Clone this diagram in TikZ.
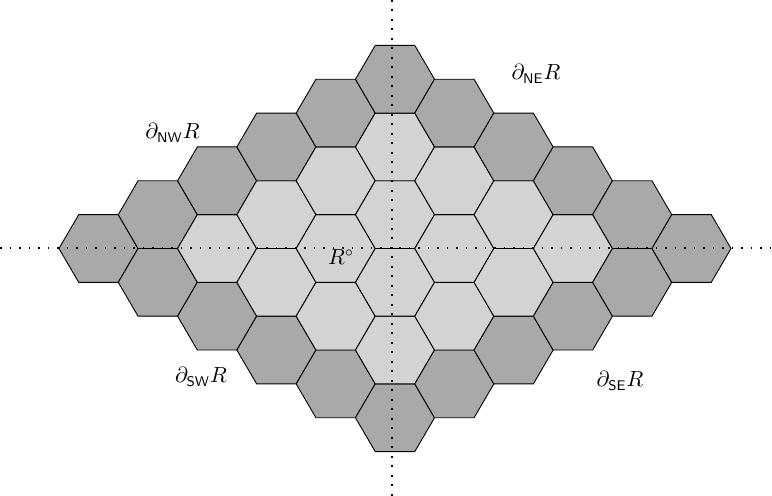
\documentclass[tikz,border=0pt]{standalone}
\usepackage{amsmath}
\definecolor{hexdark}{RGB}{169,169,169}
\definecolor{hexlight}{RGB}{211,211,211}
\tikzset{
  hexcell/.style={draw=black, line width=0.45pt, line join=miter},
  axisline/.style={black, line width=0.6pt, dash pattern=on 0.9pt off 3.85pt},
  lbl/.style={inner sep=0pt, font=\fontsize{10.5}{12}\selectfont}
}
\begin{document}
\begin{tikzpicture}[x=0.5pt,y=-0.5pt]
\useasboundingbox (0,0) rectangle (772,496);
\def\hx{39.53}\def\hq{19.765}\def\hh{33.85}
\foreach \i in {0,...,5}{
  \foreach \j in {0,...,5}{
    \pgfmathsetmacro\cx{98.5+(\i+\j)*59.3}
    \pgfmathsetmacro\cy{248.5+(\j-\i)*33.85}
    \pgfmathtruncatemacro\bd{((\i==0)||(\i==5)||(\j==0)||(\j==5))?1:0}
    \ifnum\bd=1 \def\hexcol{hexdark}\else \def\hexcol{hexlight}\fi
    \filldraw[hexcell, fill=\hexcol] (\cx,\cy) ++(\hx,0) -- ++(-\hq,-\hh) -- ++(-\hx,0) -- ++(-\hq,\hh) -- ++(\hq,\hh) -- ++(\hx,0) -- cycle;
  }
}
\coordinate (hl) at (0,248);
\coordinate (hr) at (772,248);
\coordinate (vt) at (392,0);
\coordinate (vb) at (392,496);
\draw[axisline] (hl) -- (hr);
\draw[axisline] (vt) -- (vb);
\node[lbl] (nw) at (172.5,133) {$\partial_{\mathsf{NW}}R$};
\node[lbl] (ne) at (536,74) {$\partial_{\mathsf{NE}}R$};
\node[lbl] (sw) at (201,377) {$\partial_{\mathsf{SW}}R$};
\node[lbl] (se) at (620,381) {$\partial_{\mathsf{SE}}R$};
\node[lbl] (int) at (341,257) {$R^{\circ}$};
\end{tikzpicture}
\end{document}
